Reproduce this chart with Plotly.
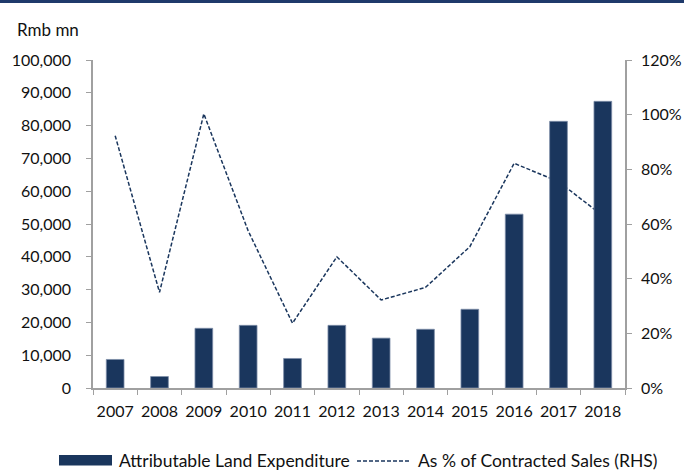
import plotly.graph_objects as go

years = ["2007", "2008", "2009", "2010", "2011", "2012", "2013", "2014", "2015", "2016", "2017", "2018"]
land_exp = [8700, 3500, 18200, 19100, 9000, 19100, 15200, 17900, 24000, 53000, 81300, 87400]
pct_sales = [92.3, 35.0, 100.3, 57.5, 23.7, 48.0, 32.2, 36.8, 51.7, 82.2, 75.5, 63.0]

left_ticks = [0, 10000, 20000, 30000, 40000, 50000, 60000, 70000, 80000, 90000, 100000]
right_ticks = [0, 20, 40, 60, 80, 100, 120]

bar_name = "Attributable Land Expenditure"
line_name = "As % of Contracted Sales (RHS)"

NAVY = "#1a365d"
AXIS = "#a0a0a0"
FONT = "Lato"
DASH = "4px,2px"

W, H = 684, 473
L, R, T, B = 93, 59, 59.5, 85
pw, ph = W - L - R, H - T - B


def px(x):
    return (x - L) / pw


def py(y):
    return 1 - (y - T) / ph


fig = go.Figure()
# line on primary (drawn underneath), bars on overlaying axis (drawn on top)
fig.add_trace(go.Scatter(
    x=years, y=pct_sales, yaxis="y", mode="lines",
    line=dict(color=NAVY, width=1.5, dash=DASH),
    name=line_name, showlegend=False,
))
fig.add_trace(go.Bar(
    x=years, y=land_exp, yaxis="y2",
    marker=dict(color=NAVY, line=dict(color="#7d8ea8", width=0.8)),
    name=bar_name, showlegend=False,
))

legend_y = 461
shapes = [
    # top border band
    dict(type="rect", xref="paper", yref="paper",
         x0=px(0), x1=px(W), y0=py(2.5), y1=py(-1),
         fillcolor="#1f3a6b", line=dict(width=0), layer="above"),
    # legend swatch: bar
    dict(type="rect", xref="paper", yref="paper",
         x0=px(59), x1=px(112), y0=py(465.5), y1=py(455),
         fillcolor=NAVY, line=dict(width=0)),
    # legend swatch: dashed line
    dict(type="line", xref="paper", yref="paper",
         x0=px(357), x1=px(411), y0=py(legend_y), y1=py(legend_y),
         line=dict(color=NAVY, width=1.5, dash=DASH)),
]

annotations = [
    dict(text="Rmb mn", xref="paper", yref="paper",
         x=px(15), xanchor="left", y=py(28.5), yanchor="middle",
         showarrow=False, font=dict(size=17)),
    dict(text=bar_name, xref="paper", yref="paper",
         x=px(117), xanchor="left", y=py(legend_y), yanchor="middle",
         showarrow=False, font=dict(size=17.5)),
    dict(text=line_name, xref="paper", yref="paper",
         x=px(416), xanchor="left", y=py(legend_y), yanchor="middle",
         showarrow=False, font=dict(size=17.5)),
]

fig.update_layout(
    width=W, height=H,
    margin=dict(l=L, r=R, t=T, b=B, autoexpand=False),
    paper_bgcolor="white", plot_bgcolor="white",
    font=dict(family=FONT, size=16, color="#111111"),
    bargap=0.6,
    showlegend=False,
    xaxis=dict(type="category", showline=True, linecolor=AXIS, linewidth=1.5,
               ticks="outside", ticklen=5, tickcolor=AXIS, tickson="boundaries",
               tickangle=0, showgrid=False, zeroline=False, ticklabelstandoff=8),
    yaxis=dict(side="right", range=[0, 120], tickvals=right_ticks,
               ticktext=[f"{v}%" for v in right_ticks],
               showline=True, linecolor=AXIS, linewidth=1.5,
               ticks="outside", ticklen=5, tickcolor=AXIS,
               showgrid=False, zeroline=False, ticklabelstandoff=6),
    yaxis2=dict(side="left", overlaying="y", range=[0, 100000], tickvals=left_ticks,
                ticktext=[f"{v:,}" for v in left_ticks],
                showline=True, linecolor=AXIS, linewidth=1.5,
                ticks="outside", ticklen=5, tickcolor=AXIS,
                showgrid=False, zeroline=False, ticklabelstandoff=12),
    shapes=shapes,
    annotations=annotations,
)

fig.write_html("out.html")
